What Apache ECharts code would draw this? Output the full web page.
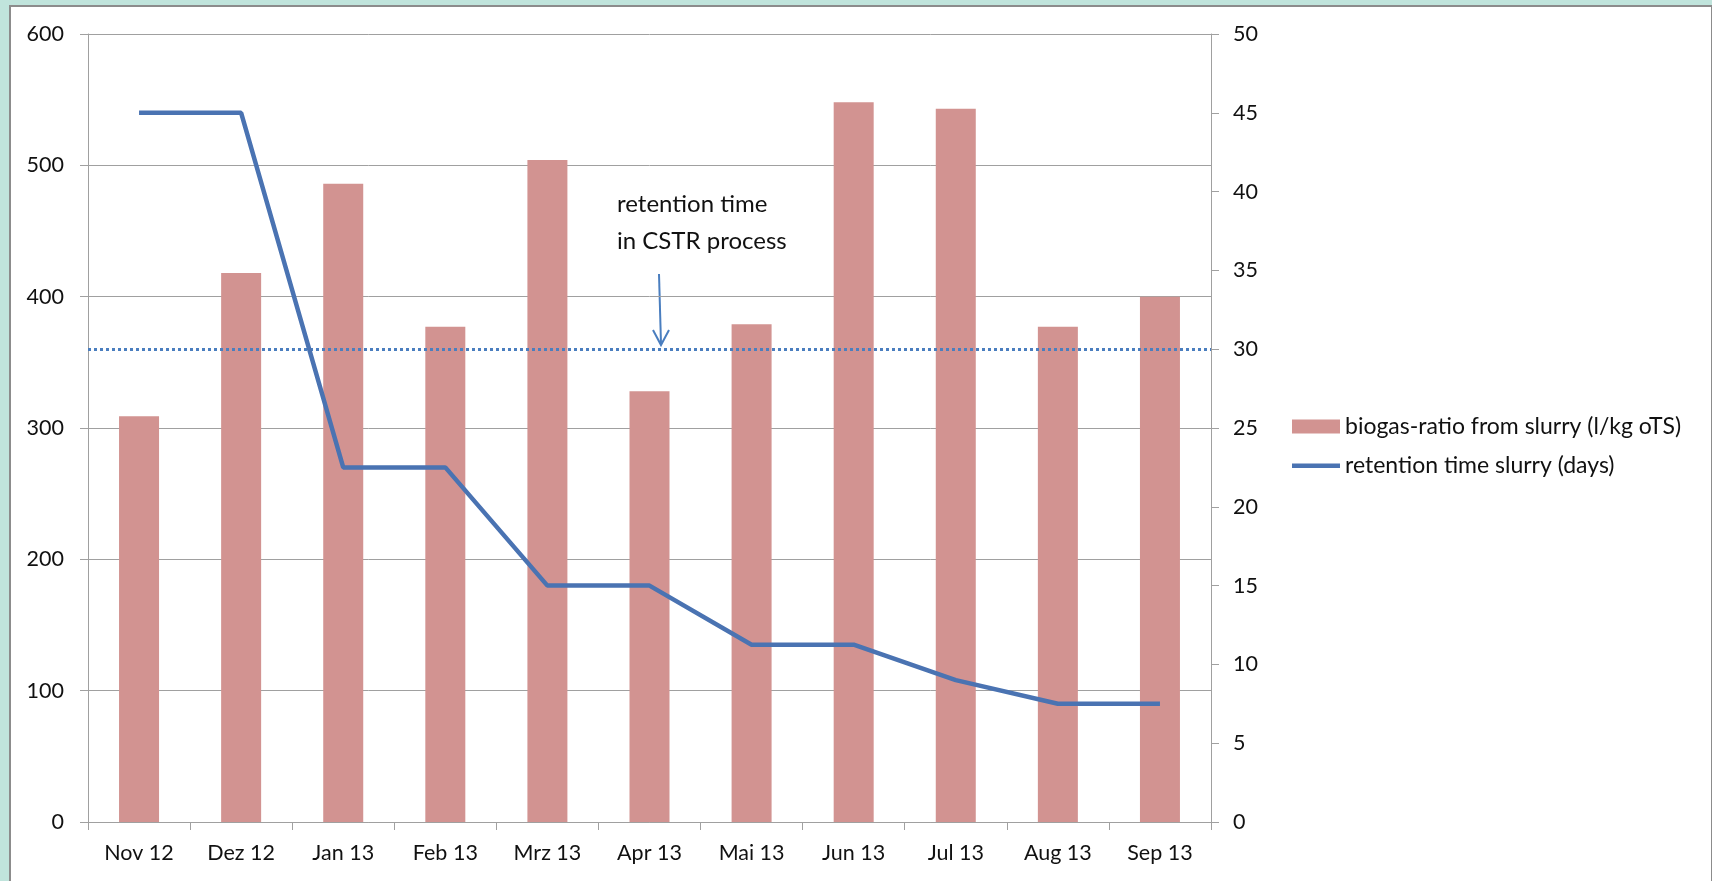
<!DOCTYPE html>
<html>
<head>
<meta charset="utf-8">
<script src="https://cdn.jsdelivr.net/npm/echarts@6/dist/echarts.min.js"></script>
<style>
html, body { margin: 0; padding: 0; }
body { width: 1712px; height: 881px; background: #c0e4dc; position: relative; overflow: hidden; }
.panel { position: absolute; left: 9px; top: 5px; width: 1700px; height: 880px; background: #fff; border: 2px solid #8c8c8c; border-bottom: none; }
#main { position: absolute; left: 0; top: 0; width: 1712px; height: 881px; }
</style>
</head>
<body>
<div class="panel"></div>
<div id="main"></div>
<script>
// months on the x axis
var months = ['Nov 12', 'Dez 12', 'Jan 13', 'Feb 13', 'Mrz 13', 'Apr 13', 'Mai 13', 'Jun 13', 'Jul 13', 'Aug 13', 'Sep 13'];
// biogas ratio (l/kg oTS), left axis
var biogasRatio = [309, 418, 486, 377, 504, 328, 379, 548, 543, 377, 400];
// retention time (days), right axis
var retentionDays = [45, 45, 22.5, 22.5, 15, 15, 11.25, 11.25, 9, 7.5, 7.5];
// CSTR reference line
var cstrDays = 30;

var font = 'Lato';
var myChart = echarts.init(document.getElementById('main'));

var option = {
  animation: false,
  textStyle: { fontFamily: font },
  grid: { left: 88, right: 501, top: 34, bottom: 59 },
  legend: {
    orient: 'vertical',
    left: 1287,
    top: 410,
    itemWidth: 48,
    itemHeight: 14,
    itemGap: 16,
    textStyle: { fontFamily: font, fontSize: 23, color: '#111' },
    data: [
      { name: 'biogas-ratio from slurry (l/kg oTS)', icon: 'rect' },
      // thin line icon: the moveTo points keep the box at 48x14
      { name: 'retention time slurry (days)', icon: 'path://M0,0 M0,5 L48,5 L48,9.5 L0,9.5 Z M48,14' }
    ]
  },
  xAxis: {
    type: 'category',
    data: months,
    axisLine: { lineStyle: { color: '#a0a0a0', width: 1 } },
    axisTick: { show: true, length: 8, lineStyle: { color: '#a0a0a0' } },
    axisLabel: { color: '#111', fontSize: 21.5, margin: 20, fontFamily: font }
  },
  yAxis: [
    {
      type: 'value',
      min: 0, max: 600, interval: 100,
      axisLine: { show: true, lineStyle: { color: '#a0a0a0' } },
      axisTick: { show: true, length: 8, lineStyle: { color: '#a0a0a0' } },
      axisLabel: { color: '#111', fontSize: 21.5, margin: 24, fontFamily: font },
      splitLine: { lineStyle: { color: '#a0a0a0', width: 1 } }
    },
    {
      type: 'value',
      min: 0, max: 50, interval: 5,
      position: 'right',
      axisLine: { show: true, lineStyle: { color: '#a0a0a0' } },
      axisTick: { show: true, length: 8, lineStyle: { color: '#a0a0a0' } },
      axisLabel: { color: '#111', fontSize: 21.5, margin: 22, fontFamily: font },
      splitLine: { show: false }
    }
  ],
  series: [
    {
      name: 'biogas-ratio from slurry (l/kg oTS)',
      type: 'bar',
      yAxisIndex: 0,
      barWidth: 40,
      itemStyle: { color: '#d29391' },
      data: biogasRatio
    },
    {
      name: 'retention time slurry (days)',
      type: 'line',
      yAxisIndex: 1,
      symbol: 'none',
      z: 5,
      lineStyle: { color: '#4a73b2', width: 4.5 },
      itemStyle: { color: '#4a73b2' },
      data: retentionDays,
      markLine: {
        silent: true,
        symbol: 'none',
        label: { show: false },
        lineStyle: { color: '#4a7ebf', type: [3, 3], width: 3 },
        data: [{ yAxis: cstrDays }]
      }
    }
  ],
  graphic: [
    {
      type: 'text',
      left: 617,
      top: 186,
      style: {
        text: 'retention time\nin CSTR process',
        font: '24px ' + font,
        fill: '#111',
        lineHeight: 37
      }
    },
    {
      type: 'polyline',
      shape: { points: [[659, 274], [661, 344]] },
      style: { stroke: '#4a7ebf', lineWidth: 2, fill: null }
    },
    {
      type: 'polyline',
      shape: { points: [[653, 330], [661, 345], [669, 330]] },
      style: { stroke: '#4a7ebf', lineWidth: 2, fill: null }
    }
  ]
};

myChart.setOption(option);
</script>
</body>
</html>
